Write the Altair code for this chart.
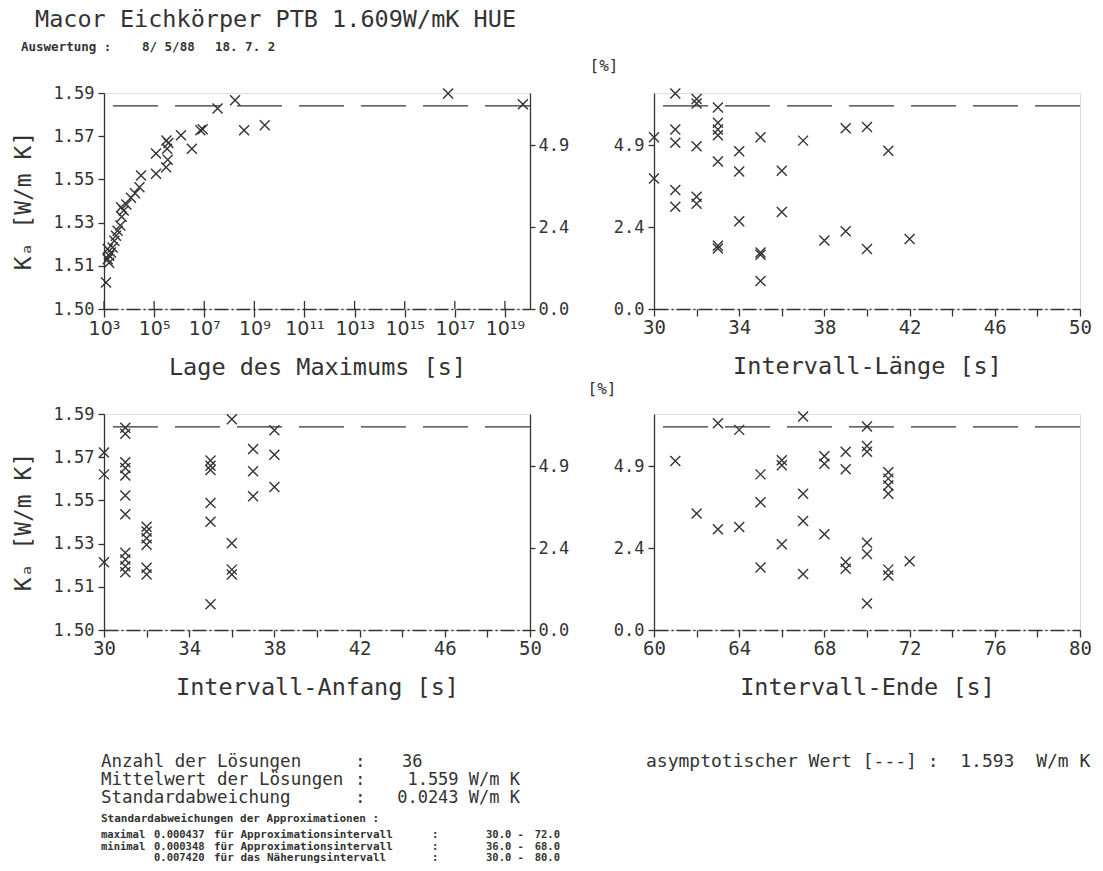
import json
import altair as alt
import pandas as pd

# ---------------- values ----------------
LAGE_S = [1.2e3, 1.41e3, 1.63e3, 1.9e3, 1.4e3, 2.2e3, 2.6e3, 3.0e3, 3.5e3, 4.5e3,
          5.1e3, 6.1e3, 4.8e3, 7.8e3, 1.19e4, 1.73e4, 2.6e4, 3.0e4, 1.19e5, 1.19e5,
          3.0e5, 3.5e5, 3.3e5, 3.7e5, 3.1e5, 1.18e6, 3.2e6, 7.0e6, 8.7e6, 3.4e7,
          1.7e8, 3.9e8, 2.6e9, 5.4e16, 5.2e19, 1.6e3]
LAGE_KA = [1.5118, 1.5223, 1.5238, 1.5253, 1.5268, 1.5275, 1.5305, 1.5328, 1.5350, 1.5373,
           1.5413, 1.5440, 1.5455, 1.5467, 1.5497, 1.5518, 1.5545, 1.5597, 1.5605, 1.5695,
           1.5634, 1.5668, 1.5717, 1.5742, 1.5754, 1.5777, 1.5717, 1.5799, 1.5804, 1.5897,
           1.5934, 1.5799, 1.5822, 1.5964, 1.5916, 1.5207]

LAENGE_S = [30, 30, 31, 31, 31, 31, 31, 32, 32, 32, 32, 32,
            33, 33, 33, 33, 33, 33, 33, 34, 34, 34, 35, 35, 35, 35,
            36, 36, 37, 38, 39, 39, 40, 40, 41, 42]
LAENGE_KA = [1.5768, 1.5584, 1.5964, 1.5803, 1.5743, 1.5532, 1.5457,
             1.5939, 1.5919, 1.5728, 1.5502, 1.5471,
             1.5901, 1.5833, 1.5803, 1.5777, 1.5660, 1.5283, 1.5271,
             1.5705, 1.5615, 1.5392, 1.5768, 1.5253, 1.5243, 1.5125,
             1.5618, 1.5434, 1.5753, 1.5306, 1.5808, 1.5348, 1.5814, 1.5268, 1.5708, 1.5313]

ANFANG_S = [30, 30, 30,
            31, 31, 31, 31, 31, 31, 31, 31, 31, 31, 31,
            32, 32, 32, 32, 32, 32,
            35, 35, 35, 35, 35, 35,
            36, 36, 36, 36,
            37, 37, 37,
            38, 38, 38]
ANFANG_KA = [1.5794, 1.5696, 1.5303,
             1.5905, 1.5878, 1.5750, 1.5725, 1.5691, 1.5602, 1.5518, 1.5346, 1.5315, 1.5285, 1.5258,
             1.5462, 1.5440, 1.5410, 1.5381, 1.5278, 1.5248,
             1.5758, 1.5735, 1.5716, 1.5568, 1.5484, 1.5115,
             1.5942, 1.5388, 1.5270, 1.5248,
             1.5809, 1.5710, 1.5598,
             1.5893, 1.5784, 1.5639]

ENDE_S = [61, 62, 63, 63, 64, 64, 65, 65, 65, 66, 66, 66,
          67, 67, 67, 67, 68, 68, 68, 69, 69, 69, 69,
          70, 70, 70, 70, 70, 70, 71, 71, 71, 71, 71, 71, 72]
ENDE_KA = [1.5756, 1.5521, 1.5925, 1.5451, 1.5895, 1.5461, 1.5696, 1.5571, 1.5280,
           1.5759, 1.5737, 1.5383, 1.5955, 1.5609, 1.5488, 1.5250,
           1.5777, 1.5744, 1.5428, 1.5797, 1.5719, 1.5304, 1.5274,
           1.5910, 1.5823, 1.5797, 1.5390, 1.5340, 1.5119,
           1.5706, 1.5677, 1.5646, 1.5609, 1.5270, 1.5244, 1.5307]

ASYM_LINE_KA = 1.5908  # height of the dashed line as drawn

KA_TICK_LABELS = ["1.50", "1.51", "1.53", "1.55", "1.57", "1.59"]
PCT_TICK_VALUES = [0.0, 2.44, 4.88]
PCT_TICK_LABELS = ["0.0", "2.4", "4.9"]
LAGE_TICK_EXP = [3, 5, 7, 9, 11, 13, 15, 17, 19]
LAGE_TICK_LABELS = ["10³", "10⁵", "10⁷", "10⁹", "10¹¹", "10¹³", "10¹⁵", "10¹⁷", "10¹⁹"]

TITLE = "Macor Eichkörper PTB 1.609W/mK HUE"
SUB = ["Auswertung :", "8/ 5/88", "18. 7. 2"]
STAT_LABELS = ["Anzahl der Lösungen", "Mittelwert der Lösungen", "Standardabweichung"]
STAT_VALUES = ["36", "1.559 W/m K", "0.0243 W/m K"]
APPROX_HEAD = "Standardabweichungen der Approximationen :"
APPROX_ROWS = [
    ["maximal", "0.000437", "für Approximationsintervall", ":", "30.0 -", "72.0"],
    ["minimal", "0.000348", "für Approximationsintervall", ":", "36.0 -", "68.0"],
    ["", "0.007420", "für das Näherungsintervall", ":", "30.0 -", "80.0"],
]
ASYM_TEXT = ["asymptotischer Wert [---] :", "1.593", "W/m K"]

# ---------------- styling ----------------
INK = "#333333"
MONO = "DejaVu Sans Mono"
SANS = "DejaVu Sans"
NB = "\u00a0"
W, H = 426, 216
KA_LO, KA_HI = 1.50, 1.5966
KA_STEP = (KA_HI - KA_LO) / 5
CROSS = "M-1,-1L1,1M-1,1L1,-1"


def yscale():
    return alt.Scale(domain=[KA_LO, KA_HI], nice=False, zero=False)


ka_ticks = [KA_LO + i * KA_STEP for i in range(len(KA_TICK_LABELS))]
ka_expr = f"{json.dumps(KA_TICK_LABELS)}[round((datum.value - {KA_LO}) / {KA_STEP})]"
pct_ticks = [KA_LO * (1 + p / 100) for p in PCT_TICK_VALUES]
pct_step = PCT_TICK_VALUES[1] - PCT_TICK_VALUES[0]
pct_expr = f"{json.dumps(PCT_TICK_LABELS)}[round((datum.value / {KA_LO} - 1) * 100 / {pct_step})]"

y_common = dict(domainColor=INK, domainWidth=1.3, tickColor=INK, tickWidth=1.3,
                labelFont=MONO, labelFontSize=17, labelColor=INK, grid=False, title=None,
                labelOverlap=False)
left_ka_axis = alt.Axis(orient="left", values=ka_ticks, labelExpr=ka_expr, tickSize=6,
                        labelPadding=4, **y_common)
right_pct_axis = alt.Axis(orient="right", values=pct_ticks, labelExpr=pct_expr, tickSize=5,
                          labelPadding=3, **y_common)
left_pct_axis = alt.Axis(orient="left", values=pct_ticks, labelExpr=pct_expr, tickSize=6,
                         labelPadding=4, **y_common)

x_common = dict(domainColor=INK, domainWidth=1.3, domainDash=[14, 3, 2, 3], tickColor=INK,
                tickWidth=1.3, labelFontSize=19, labelColor=INK,
                labelPadding=2, titleFont=MONO, titleFontSize=23.5, titleColor=INK,
                titleFontWeight="normal", titlePadding=17, grid=False, labelOverlap=False,
                labelFlush=False)


def lin_axis(title, start):
    return alt.Axis(title=title, values=list(range(start, start + 21, 2)), tickSize=7,
                    labelFont=MONO,
                    labelExpr=f"(datum.value - {start}) % 4 == 0 ? datum.label : ''", **x_common)


def txt(s, x, y, size, font=MONO, weight="normal", align="left", angle=0, color=INK):
    return alt.Chart(pd.DataFrame({"t": [s]})).mark_text(
        font=font, fontSize=size, fontWeight=weight, align=align, baseline="middle",
        angle=angle, color=color).encode(text="t:N", x=alt.value(x), y=alt.value(y))


def pts(xs, ks, xenc, yaxis):
    df = pd.DataFrame({"x": xs, "ka": ks})
    return alt.Chart(df).mark_point(shape=CROSS, size=100, filled=False, stroke=INK,
                                    strokeWidth=1.4, opacity=1).encode(
        x=xenc, y=alt.Y("ka:Q", scale=yscale(), axis=yaxis))


def asym(yaxis):
    return alt.Chart(pd.DataFrame({"ka": [ASYM_LINE_KA]})).mark_rule(
        color=INK, strokeWidth=1.3, strokeDash=[45, 17]).encode(
        y=alt.Y("ka:Q", scale=yscale(), axis=yaxis))


# ---------------- top left: Lage des Maximums ----------------
lage_scale = alt.Scale(type="log", domain=[1e3, 1e20], nice=False)
lage_ticks = [10.0 ** e for e in LAGE_TICK_EXP]
lage_expr = f"{json.dumps(LAGE_TICK_LABELS)}[round((log(datum.value) / LN10 - {LAGE_TICK_EXP[0]}) / 2)]"
lage_axis = alt.Axis(title="Lage des Maximums [s]", values=lage_ticks, labelExpr=lage_expr,
                     tickSize=8, labelFont=SANS, **x_common)
lage_x = alt.X("x:Q", scale=lage_scale, axis=lage_axis)

inward = alt.Chart(pd.DataFrame({"x": lage_ticks})).mark_rule(color=INK, strokeWidth=1.3).encode(
    x=lage_x, y=alt.value(H), y2=alt.value(H - 8))

tl = alt.layer(
    pts(LAGE_S, LAGE_KA, lage_x, left_ka_axis),
    asym(right_pct_axis),
    inward,
    txt(TITLE, -69, -73, 23.5),
    txt(SUB[0], -83, -46, 12.5, weight="bold"),
    txt(SUB[1], 38, -46, 12.5, weight="bold"),
    txt(SUB[2], 111, -46, 12.5, weight="bold"),
    txt("Kₐ [W/m K]", -80, H / 2, 23, align="center", angle=270),
    txt(".", -103, -86, 12, color="#ffffff"),
).resolve_scale(y="independent").properties(width=W, height=H)

# ---------------- top right: Intervall-Länge ----------------
laenge_x = alt.X("x:Q", scale=alt.Scale(domain=[30, 50], nice=False, zero=False),
                 axis=lin_axis("Intervall-Länge [s]", 30))
tr = alt.layer(
    pts(LAENGE_S, LAENGE_KA, laenge_x, left_pct_axis),
    asym(left_pct_axis),
    txt("[%]", -50, -27, 16, align="center"),
).properties(width=W, height=H)

# ---------------- bottom left: Intervall-Anfang ----------------
anfang_x = alt.X("x:Q", scale=alt.Scale(domain=[30, 50], nice=False, zero=False),
                 axis=lin_axis("Intervall-Anfang [s]", 30))
bl_layers = [
    pts(ANFANG_S, ANFANG_KA, anfang_x, left_ka_axis),
    asym(right_pct_axis),
    txt("Kₐ [W/m K]", -80, H / 2, 23, align="center", angle=270),
]
for i, (lab, val) in enumerate(zip(STAT_LABELS, STAT_VALUES)):
    yy = 348 + 18 * i
    bl_layers.append(txt(lab, -3, yy, 17.5))
    bl_layers.append(txt(":", 251, yy, 17.5))
    if i == 0:
        bl_layers.append(txt(val, 298, yy, 17))
    else:
        bl_layers.append(txt(val, 416, yy, 17, align="right"))
bl_layers.append(txt(APPROX_HEAD, -3, 405, 11, weight="bold"))
for i, row in enumerate(APPROX_ROWS):
    yy = 421 + 11.5 * i
    for col, (s, xx) in enumerate(zip(row, [-3, 50, 110, 328, 382, 456])):
        if s:
            bl_layers.append(txt(s, xx, yy, 10.5 if col != 2 else 11, weight="bold",
                                 align="right" if col == 5 else "left"))
bl = alt.layer(*bl_layers).resolve_scale(y="independent").properties(width=W, height=H)

# ---------------- bottom right: Intervall-Ende ----------------
ende_x = alt.X("x:Q", scale=alt.Scale(domain=[60, 80], nice=False, zero=False),
               axis=lin_axis("Intervall-Ende [s]", 60))
asym_line = (NB * 2).join(ASYM_TEXT)
br = alt.layer(
    pts(ENDE_S, ENDE_KA, ende_x, left_pct_axis),
    asym(left_pct_axis),
    txt("[%]", -52, -25, 16, align="center"),
    txt(asym_line, -8, 348, 18),
).properties(width=W, height=H)

chart = alt.concat(tl, tr, bl, br, columns=2, spacing={"row": 105, "column": 124},
                   bounds="flush", padding=0).configure_view(stroke=None).configure(
    background="#ffffff")

chart.save("out.html", embed_options={"renderer": "svg", "actions": False})
